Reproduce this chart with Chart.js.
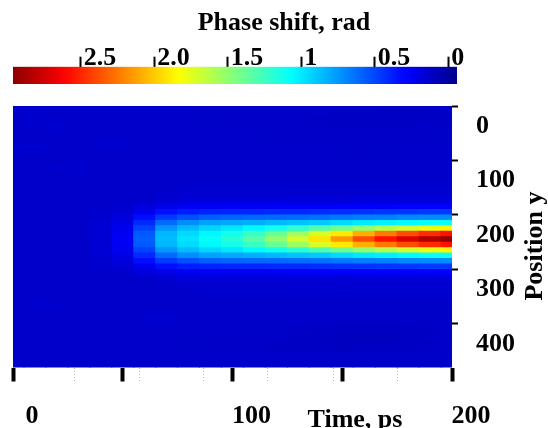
<!DOCTYPE html>
<html><head><meta charset="utf-8">
<script src="https://cdn.jsdelivr.net/npm/chart.js@4.4.0/dist/chart.umd.min.js"></script>
<style>
html,body{margin:0;padding:0;background:#fff;}
#wrap{position:relative;width:548px;height:428px;overflow:hidden;}
#wrap canvas{position:absolute;left:0;top:0;}
</style></head><body>
<div id="wrap"><canvas id="cbar" width="548" height="428"></canvas><canvas id="heat" width="548" height="428"></canvas></div>
<script>
// ---------- data ----------
const timesPs = [0,10,20,30,40,50,60,70,80,90,100,110,120,130,140,150,160,170,180,190,200];
const positionsY = [5,15,25,35,45,55,65,75,85,95,105,115,125,135,145,155,165,175,185,195,205,215,225,235,245,255,265,275,285,295,305,315,325,335,345,355,365,375,385,395,405,415,425,435,445,455,465,475];
// phase shift (rad), one row per position, one column per time
const phaseRad = [
[.14,.14,.13,.13,.13,.13,.13,.13,.13,.12,.12,.12,.12,.12,.12,.12,.12,.11,.11,.11,.12],
[.14,.14,.13,.13,.13,.13,.13,.13,.12,.12,.12,.12,.12,.12,.12,.11,.11,.11,.11,.11,.12],
[.13,.14,.14,.13,.13,.13,.13,.13,.13,.12,.12,.12,.12,.12,.11,.11,.10,.10,.11,.11,.12],
[.13,.14,.14,.13,.13,.13,.13,.13,.13,.13,.12,.12,.12,.12,.12,.11,.11,.11,.11,.12,.12],
[.13,.13,.14,.13,.13,.13,.14,.13,.13,.13,.13,.12,.12,.12,.12,.12,.12,.12,.12,.12,.12],
[.13,.13,.13,.13,.13,.13,.13,.13,.13,.13,.13,.13,.12,.12,.12,.12,.12,.12,.12,.12,.13],
[.14,.13,.13,.13,.14,.14,.13,.13,.13,.13,.13,.13,.13,.12,.12,.12,.12,.12,.12,.13,.13],
[.14,.14,.13,.13,.14,.14,.13,.13,.13,.13,.13,.13,.13,.13,.13,.12,.12,.12,.13,.13,.13],
[.13,.14,.13,.13,.13,.13,.13,.13,.13,.13,.13,.13,.13,.13,.13,.13,.12,.13,.13,.13,.13],
[.13,.13,.13,.13,.13,.13,.13,.13,.13,.13,.13,.13,.13,.13,.13,.13,.13,.13,.13,.13,.13],
[.13,.13,.13,.14,.13,.13,.13,.13,.13,.13,.13,.13,.13,.13,.13,.13,.13,.13,.13,.13,.13],
[.13,.13,.14,.14,.13,.13,.13,.13,.13,.13,.13,.13,.13,.13,.13,.13,.13,.13,.13,.13,.13],
[.13,.13,.13,.13,.13,.13,.13,.13,.13,.13,.13,.13,.13,.13,.13,.13,.13,.13,.13,.13,.13],
[.13,.13,.13,.13,.13,.13,.13,.13,.13,.13,.13,.13,.13,.13,.13,.13,.13,.13,.13,.13,.13],
[.13,.13,.13,.13,.13,.13,.13,.13,.13,.14,.14,.14,.14,.14,.14,.14,.14,.14,.14,.14,.14],
[.13,.13,.13,.13,.13,.13,.13,.13,.14,.14,.14,.14,.14,.14,.14,.14,.14,.14,.14,.14,.14],
[.13,.13,.13,.13,.13,.13,.13,.14,.15,.15,.15,.15,.15,.15,.15,.15,.15,.15,.15,.15,.15],
[.13,.13,.13,.13,.13,.13,.14,.16,.18,.18,.18,.18,.18,.18,.18,.18,.19,.19,.19,.19,.19],
[.13,.13,.13,.13,.13,.14,.18,.22,.25,.26,.26,.26,.26,.27,.27,.28,.28,.28,.29,.29,.29],
[.13,.13,.13,.13,.14,.16,.24,.33,.37,.39,.40,.40,.41,.41,.42,.43,.44,.45,.45,.46,.46],
[.13,.13,.13,.13,.14,.18,.32,.46,.53,.58,.59,.60,.61,.62,.63,.65,.67,.68,.70,.71,.72],
[.13,.13,.13,.13,.15,.21,.41,.61,.72,.78,.80,.82,.85,.88,.90,.95,1.0,1.02,1.05,1.08,1.10],
[.13,.13,.13,.13,.15,.23,.49,.75,.86,.94,.99,1.05,1.12,1.20,1.30,1.40,1.50,1.60,1.70,1.78,1.86],
[.13,.13,.13,.13,.16,.25,.56,.84,.95,1.04,1.12,1.24,1.38,1.54,1.72,1.90,2.08,2.24,2.38,2.48,2.56],
[.13,.13,.13,.13,.16,.26,.58,.86,.98,1.08,1.18,1.32,1.50,1.70,1.92,2.15,2.38,2.56,2.72,2.85,2.93],
[.13,.13,.13,.13,.16,.25,.56,.84,.95,1.04,1.12,1.24,1.38,1.54,1.72,1.90,2.08,2.24,2.38,2.48,2.56],
[.13,.13,.13,.13,.15,.23,.49,.75,.86,.94,.99,1.05,1.12,1.20,1.30,1.40,1.50,1.60,1.70,1.78,1.86],
[.13,.13,.13,.13,.15,.21,.41,.61,.72,.78,.80,.82,.85,.88,.90,.95,1.0,1.02,1.05,1.08,1.10],
[.13,.13,.13,.13,.14,.18,.32,.46,.53,.58,.59,.60,.61,.62,.63,.65,.67,.68,.70,.71,.72],
[.13,.13,.13,.13,.14,.16,.24,.33,.37,.39,.40,.40,.41,.41,.42,.43,.44,.45,.45,.46,.46],
[.13,.13,.13,.13,.13,.14,.18,.22,.25,.26,.26,.26,.26,.27,.27,.28,.28,.28,.29,.29,.29],
[.13,.13,.13,.13,.13,.13,.14,.16,.18,.18,.18,.18,.18,.18,.18,.18,.19,.19,.19,.19,.19],
[.13,.13,.13,.13,.13,.13,.13,.14,.15,.15,.15,.15,.15,.15,.15,.15,.15,.15,.15,.15,.15],
[.13,.13,.13,.13,.13,.13,.13,.13,.14,.14,.14,.14,.14,.14,.14,.14,.14,.14,.14,.14,.14],
[.13,.13,.13,.13,.13,.13,.13,.13,.13,.14,.14,.14,.14,.14,.14,.14,.14,.14,.14,.14,.14],
[.13,.14,.13,.13,.13,.13,.13,.13,.13,.13,.13,.13,.13,.13,.13,.13,.13,.13,.13,.13,.13],
[.13,.14,.14,.13,.13,.13,.13,.13,.13,.13,.13,.13,.13,.13,.13,.13,.13,.13,.13,.13,.13],
[.13,.13,.13,.13,.13,.13,.13,.13,.13,.13,.13,.13,.13,.13,.13,.13,.13,.13,.13,.13,.13],
[.13,.13,.13,.13,.13,.13,.14,.14,.13,.13,.13,.13,.13,.13,.13,.13,.13,.13,.12,.12,.12],
[.13,.13,.13,.13,.13,.13,.14,.14,.13,.13,.13,.13,.13,.13,.12,.12,.12,.12,.12,.12,.12],
[.13,.13,.13,.13,.13,.13,.13,.13,.13,.13,.13,.13,.13,.12,.12,.11,.11,.11,.11,.12,.12],
[.13,.13,.13,.13,.13,.13,.13,.13,.13,.13,.13,.12,.12,.12,.11,.11,.10,.10,.11,.11,.12],
[.13,.13,.13,.13,.13,.13,.13,.13,.13,.13,.12,.12,.12,.11,.11,.10,.10,.10,.11,.12,.12],
[.13,.13,.13,.13,.13,.13,.13,.13,.13,.12,.12,.12,.12,.11,.10,.10,.10,.10,.11,.11,.12],
[.13,.13,.13,.13,.13,.13,.13,.13,.12,.12,.12,.12,.11,.11,.11,.10,.11,.11,.11,.12,.12],
[.13,.13,.13,.13,.13,.13,.13,.13,.12,.12,.12,.12,.12,.12,.12,.12,.12,.12,.12,.12,.12],
[.13,.13,.13,.13,.13,.13,.13,.13,.13,.13,.13,.13,.13,.13,.13,.12,.12,.12,.12,.12,.12],
[.13,.13,.13,.13,.13,.13,.13,.13,.13,.13,.13,.13,.13,.13,.13,.13,.13,.13,.13,.13,.13]
];
const xTickValues = [0,50,100,150,200];
const xTickLabels = ['0','','100','','200'];
const xMinorTicks = [28,57.5,87,116,146,175];
const yTickValues = [0,100,200,300,400];
const yTickLabels = ['0','100','200','300','400'];
const cbarTickValues = [0,0.5,1,1.5,2,2.5];
const cbarTickLabels = ['0','0.5','1','1.5','2.0','2.5'];
const cbarTitle = 'Phase shift, rad';
const xTitle = 'Time, ps';
const yTitle = 'Position y';
const colorMin = -0.1, colorMax = 3.0;     // colour map range
const cbarLow = -0.06, cbarHigh = 2.96;    // extent of the colour bar
const yMin = 0, yMax = 480, xMin = 0, xMax = 200;

// ---------- helpers ----------
const FONT = "'Liberation Serif','Times New Roman',serif";
function clamp01(x){return Math.max(0,Math.min(1,x));}
function colorFor(v){
  const f = clamp01((v-colorMin)/(colorMax-colorMin));
  const r = clamp01(1.5-Math.abs(4*f-3)), g = clamp01(1.5-Math.abs(4*f-2)), b = clamp01(1.5-Math.abs(4*f-1));
  return 'rgb('+Math.round(255*r)+','+Math.round(255*g)+','+Math.round(255*b)+')';
}

// ---------- heat map cells ----------
const rowHalf = (positionsY[1]-positionsY[0])/2;
const cells = [], cellColors = [];
positionsY.forEach((p, r) => {
  timesPs.forEach((t, c) => {
    cells.push({x: t, y: [p-rowHalf, p+rowHalf]});
    cellColors.push(colorFor(phaseRad[r][c]));
  });
});

const majorSet = new Set(xTickValues);

const heatText = {
  id: 'heatText',
  afterDraw(chart){
    const ctx = chart.ctx;
    ctx.save();
    ctx.fillStyle = '#000';
    ctx.font = 'bold 26px ' + FONT;
    ctx.textAlign = 'center';
    ctx.textBaseline = 'alphabetic';
    ctx.fillText(xTitle, 355, 427);
    ctx.translate(535, 246);
    ctx.rotate(-Math.PI/2);
    ctx.textBaseline = 'middle';
    ctx.fillText(yTitle, 0, 0);
    ctx.restore();
  }
};

new Chart(document.getElementById('heat'), {
  type: 'bar',
  data: { datasets: [{
    data: cells,
    backgroundColor: cellColors,
    borderWidth: 0,
    barThickness: 22,
    grouped: false,
    inflateAmount: 0.5
  }]},
  options: {
    responsive: false, animation: false, devicePixelRatio: 1,
    layout: { padding: { left: 13, top: 106, right: 0, bottom: 0 } },
    plugins: { legend: {display:false}, tooltip: {enabled:false}, title: {display:false} },
    scales: {
      x: {
        type: 'linear', min: xMin, max: xMax, position: 'bottom', offset: false,
        afterBuildTicks: s => { s.ticks = [...xTickValues, ...xMinorTicks].sort((a,b)=>a-b).map(v=>({value:v})); },
        afterFit: s => { s.height = 60.5; s.paddingLeft = 0; s.paddingRight = 0; },
        grid: {
          offset: false, drawOnChartArea: false, drawTicks: true, tickLength: 14,
          tickWidth: c => majorSet.has(c.tick && c.tick.value) ? 4 : 1,
          tickColor: c => majorSet.has(c.tick && c.tick.value) ? '#000' : '#b8b8b8',
          tickBorderDash: c => majorSet.has(c.tick && c.tick.value) ? [] : [1,2]
        },
        border: { display: false },
        ticks: {
          autoSkip: false, maxRotation: 0, padding: 19, labelOffset: 19, color: '#000',
          font: { family: FONT, weight: 'bold', size: 26 },
          callback: v => { const i = xTickValues.indexOf(v); return i >= 0 ? xTickLabels[i] : ''; }
        }
      },
      y: {
        type: 'linear', position: 'right', reverse: true, min: yMin, max: yMax,
        afterBuildTicks: s => { s.ticks = yTickValues.map(v=>({value:v})); },
        afterFit: s => { s.width = 96; s.paddingTop = 0; s.paddingBottom = 0; },
        grid: { drawOnChartArea: false, tickLength: 6, tickWidth: 2, tickColor: '#000' },
        border: { display: false },
        ticks: {
          autoSkip: false, padding: 18, labelOffset: 20, color: '#000',
          font: { family: FONT, weight: 'bold', size: 26 },
          callback: v => { const i = yTickValues.indexOf(v); return i >= 0 ? yTickLabels[i] : ''; }
        }
      }
    }
  },
  plugins: [heatText]
});

// ---------- colour bar ----------
const cbarText = {
  id: 'cbarText',
  afterDraw(chart){
    const ctx = chart.ctx;
    ctx.save();
    ctx.fillStyle = '#000';
    ctx.font = 'bold 26px ' + FONT;
    ctx.textAlign = 'center';
    ctx.textBaseline = 'alphabetic';
    ctx.fillText(cbarTitle, 284, 30);
    ctx.restore();
  }
};

new Chart(document.getElementById('cbar'), {
  type: 'bar',
  data: { labels: ['cbar'], datasets: [{
    data: [[cbarLow, cbarHigh]],
    backgroundColor: (c) => {
      const ch = c.chart, sx = ch.scales && ch.scales.x;
      if (!ch.chartArea || !sx) return colorFor(1.5);
      const x0 = sx.getPixelForValue(cbarHigh), x1 = sx.getPixelForValue(cbarLow);
      const g = ch.ctx.createLinearGradient(x0, 0, x1, 0);
      const n = 40;
      for (let i = 0; i <= n; i++) {
        const v = cbarHigh - (cbarHigh - cbarLow) * i / n;
        g.addColorStop(i / n, colorFor(v));
      }
      return g;
    },
    borderWidth: 0, barPercentage: 1, categoryPercentage: 1
  }]},
  options: {
    indexAxis: 'y', responsive: false, animation: false, devicePixelRatio: 1,
    layout: { padding: { left: 13, right: 91, top: 46.7, bottom: 344 } },
    plugins: { legend: {display:false}, tooltip: {enabled:false} },
    scales: {
      x: {
        type: 'linear', position: 'top', reverse: true, min: cbarLow, max: cbarHigh,
        afterBuildTicks: s => { s.ticks = cbarTickValues.map(v=>({value:v})); },
        afterFit: s => { s.height = 20; s.paddingLeft = 0; s.paddingRight = 0; },
        grid: { drawOnChartArea: false, tickLength: 10, tickWidth: 2, tickColor: '#000', offset: false },
        border: { display: false },
        ticks: {
          align: 'start', autoSkip: false, maxRotation: 0, labelOffset: 3, padding: -17, color: '#000',
          font: { family: FONT, weight: 'bold', size: 26 },
          callback: v => { const i = cbarTickValues.indexOf(v); return i >= 0 ? cbarTickLabels[i] : ''; }
        }
      },
      y: { display: false }
    }
  },
  plugins: [cbarText]
});
</script>
</body></html>
